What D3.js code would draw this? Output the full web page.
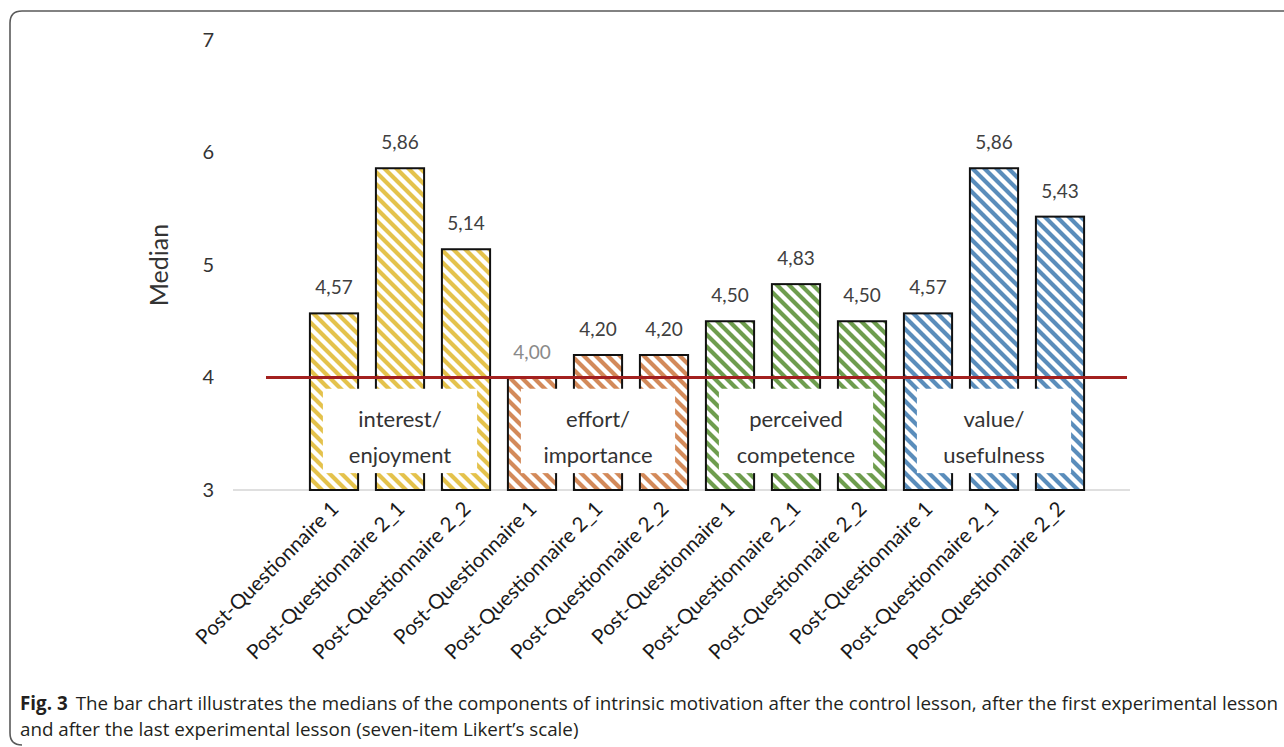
<!DOCTYPE html>
<html>
<head>
<meta charset="utf-8">
<script src="https://cdn.jsdelivr.net/npm/d3@7"></script>
<style>
  html, body { margin: 0; padding: 0; background: #fff; }
  svg { display: block; }
</style>
</head>
<body>
<svg id="chart" width="1284" height="747"></svg>
<script>
// Medians of intrinsic-motivation components, per questionnaire
const questionnaires = ["Post-Questionnaire 1", "Post-Questionnaire 2_1", "Post-Questionnaire 2_2"];
const components = ["interest/enjoyment", "effort/importance", "perceived competence", "value/usefulness"];
const componentLines = [["interest/", "enjoyment"], ["effort/", "importance"], ["perceived", "competence"], ["value/", "usefulness"]];
const componentColors = ["#e4c24c", "#d38a5a", "#6e9d4e", "#5a8dbb"];
const medians = [4.57, 5.86, 5.14, 4.00, 4.20, 4.20, 4.50, 4.83, 4.50, 4.57, 5.86, 5.43];
const yTicks = [3, 4, 5, 6, 7];
const referenceLevel = 4;
const captionBold = "Fig. 3";
const captionLine1 = "The bar chart illustrates the medians of the components of intrinsic motivation after the control lesson, after the first experimental lesson";
const captionLine2 = "and after the last experimental lesson (seven-item Likert\u2019s scale)";

const rows = [];
components.forEach((c, gi) => questionnaires.forEach((q, qi) => {
  rows.push({ key: gi + "-" + qi, group: gi, label: q, value: medians[gi * 3 + qi] });
}));

const svg = d3.select("#chart");
const fontChart = "Lato, 'Open Sans', sans-serif";

// outer figure frame (rounded top-left / bottom-left)
svg.append("path")
  .attr("d", "M1284,11 L22,11 Q10,11 10,23 L10,733 Q10,745 22,745")
  .attr("fill", "none").attr("stroke", "#5a5a5a").attr("stroke-width", 1.6);

const x = d3.scaleBand().domain(rows.map(d => d.key)).range([301, 1093])
  .paddingInner(0.27).paddingOuter(0.135);
const y = d3.scaleLinear().domain([3, 7]).range([490, 40]);

// hatch patterns (wide downward diagonal)
const defs = svg.append("defs");
const T = 12;
componentColors.forEach((col, i) => {
  const p = defs.append("pattern").attr("id", "hatch" + i)
    .attr("patternUnits", "userSpaceOnUse").attr("width", T).attr("height", T);
  p.append("rect").attr("width", T).attr("height", T).attr("fill", "#fff");
  p.append("path").attr("d", `M0,0 L${T},${T} M${-T / 2},${T / 2} L${T / 2},${T * 1.5} M${T / 2},${-T / 2} L${T * 1.5},${T / 2}`)
    .attr("stroke", col).attr("stroke-width", 4.2);
});

// y axis labels
const yAxis = d3.axisLeft(y).tickValues(yTicks).tickFormat(d3.format("d")).tickSize(0).tickPadding(0);
const gy = svg.append("g").attr("transform", "translate(214,0)").call(yAxis);
gy.select(".domain").remove();
gy.selectAll("text").attr("font-family", fontChart).attr("font-size", 20).attr("fill", "#333");

svg.append("text")
  .attr("transform", `translate(168,${y(5)}) rotate(-90)`)
  .attr("text-anchor", "middle")
  .attr("font-family", fontChart).attr("font-size", 25).attr("fill", "#333")
  .text("Median");

// baseline
svg.append("line").attr("x1", 233).attr("x2", 1130).attr("y1", y(3)).attr("y2", y(3))
  .attr("stroke", "#d4d4d4").attr("stroke-width", 1.5);

// bars
svg.append("g").selectAll("rect").data(rows).join("rect")
  .attr("x", d => x(d.key)).attr("width", x.bandwidth())
  .attr("y", d => y(d.value)).attr("height", d => y(3) - y(d.value))
  .attr("fill", d => `url(#hatch${d.group})`)
  .attr("stroke", "#111").attr("stroke-width", 2);

// value labels
const fmt = d3.formatLocale({ decimal: ",", thousands: ".", grouping: [3], currency: ["", ""] }).format(".2f");
svg.append("g").selectAll("text").data(rows).join("text")
  .attr("x", d => x(d.key) + x.bandwidth() / 2)
  .attr("y", d => y(d.value) - 19)
  .attr("text-anchor", "middle")
  .attr("font-family", fontChart).attr("font-size", 19)
  .attr("fill", d => d.value === referenceLevel ? "#8a8a8a" : "#404040")
  .text(d => fmt(d.value));

// reference line at 4
svg.append("line").attr("x1", 266).attr("x2", 1127)
  .attr("y1", y(referenceLevel)).attr("y2", y(referenceLevel))
  .attr("stroke", "#a3201f").attr("stroke-width", 3);

// component name boxes
const boxes = svg.append("g").selectAll("g").data(components).join("g");
boxes.append("rect")
  .attr("x", (d, i) => x(i + "-0") + 13)
  .attr("width", (d, i) => x(i + "-2") + x.bandwidth() - x(i + "-0") - 26)
  .attr("y", y(3.9)).attr("height", y(3.15) - y(3.9))
  .attr("fill", "#fff");
boxes.each(function (d, i) {
  const cx = x(i + "-1") + x.bandwidth() / 2;
  componentLines[i].forEach((line, li) => {
    d3.select(this).append("text")
      .attr("x", cx).attr("y", 427 + li * 36)
      .attr("text-anchor", "middle")
      .attr("font-family", fontChart).attr("font-size", 22).attr("fill", "#333")
      .text(line);
  });
});

// x labels, rotated
svg.append("g").selectAll("text").data(rows).join("text")
  .attr("transform", d => `translate(${x(d.key) + x.bandwidth() / 2 + 6},${y(3) + 20}) rotate(-45)`)
  .attr("text-anchor", "end")
  .attr("font-family", fontChart).attr("font-size", 20.5).attr("fill", "#1a1a1a")
  .text(d => d.label);

// caption
const capFont = "'Open Sans', 'Noto Sans', sans-serif";
const c1 = svg.append("text").attr("x", 20).attr("y", 710)
  .attr("font-family", capFont).attr("font-size", 18.8).attr("fill", "#231f20");
c1.append("tspan").attr("font-weight", "bold").text(captionBold);
c1.append("tspan").attr("dx", 8).text(captionLine1);
svg.append("text").attr("x", 20).attr("y", 736)
  .attr("font-family", capFont).attr("font-size", 18.8).attr("fill", "#231f20")
  .text(captionLine2);
</script>
</body>
</html>
